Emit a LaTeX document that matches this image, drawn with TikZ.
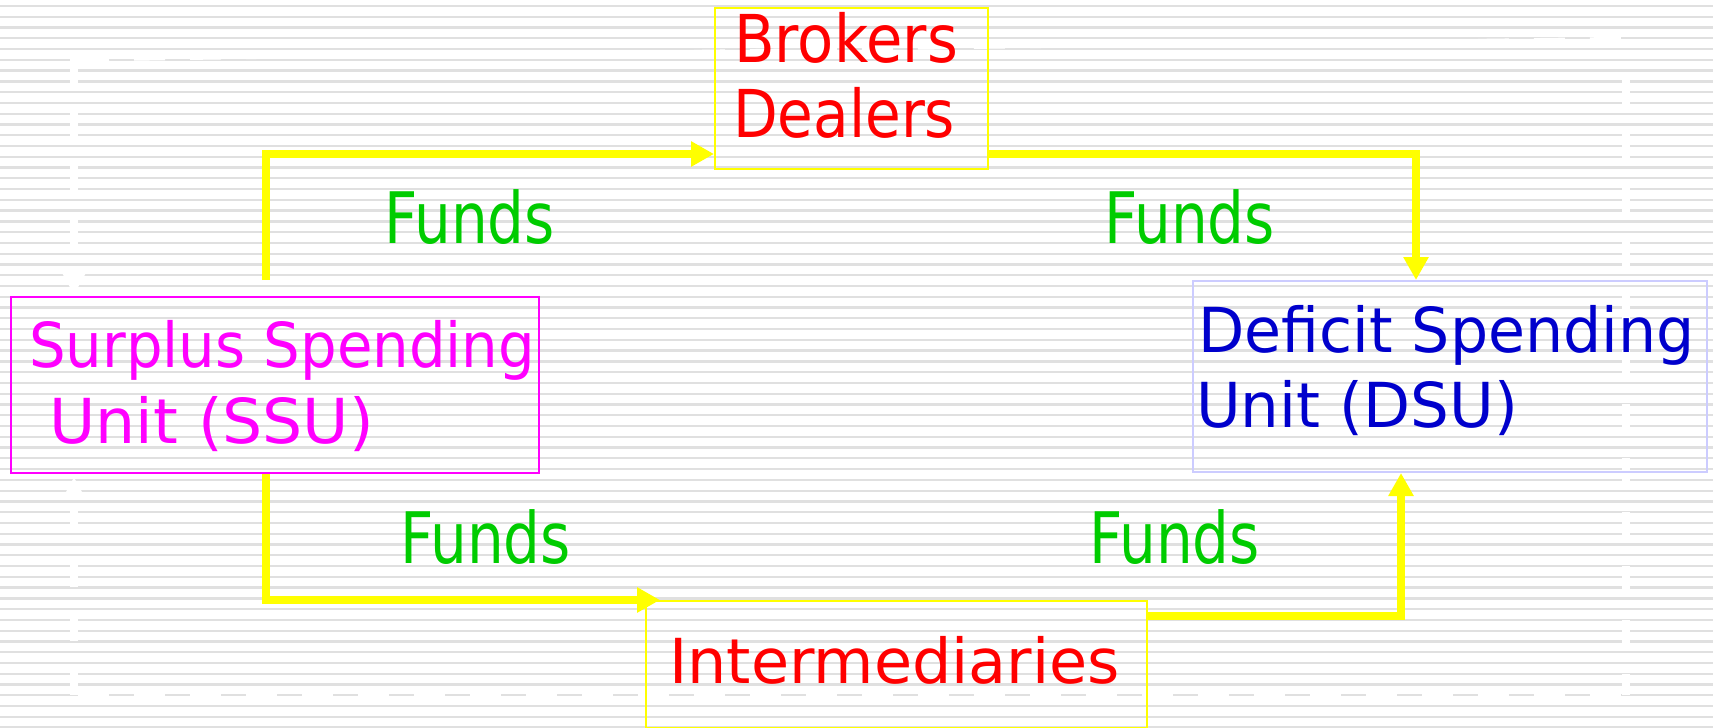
\documentclass[tikz,border=0pt]{standalone}
\usepackage{fontspec}
\setmainfont{DejaVu Sans}
\usetikzlibrary{arrows.meta}
\definecolor{ylw}{RGB}{255,255,0}
\definecolor{mag}{RGB}{255,0,255}
\definecolor{rd}{RGB}{255,0,0}
\definecolor{grn}{RGB}{0,204,0}
\definecolor{blu}{RGB}{0,0,204}
\definecolor{lav}{RGB}{204,204,255}
\definecolor{stripecol}{RGB}{224,224,224}
\newcommand\szA{\fontsize{71}{80}\selectfont}
\newcommand\szB{\fontsize{66}{76}\selectfont}
\newcommand\szC{\fontsize{62}{72}\selectfont}
\newcommand\sxt[2]{\scalebox{#1}[1]{#2}}
\begin{document}
\begin{tikzpicture}[x=1pt,y=-1pt,
  stripe/.style={draw=stripecol,line width=2.3pt},
  ghostv/.style={draw=white,line width=8pt,dash pattern=on 27pt off 27pt},
  ghosth/.style={draw=white,line width=3pt,dash pattern=on 31pt off 25pt},
  ghosttip/.style={-{Triangle[length=22pt,width=22pt]}},
  boxy/.style={draw=#1,line width=2pt,inner sep=0pt,anchor=north west},
  flow/.style={draw=ylw,line width=7.5pt,line join=miter,-{Triangle[length=23pt,width=24pt]}},
  lbl/.style={anchor=base west,inner sep=0pt},
  funds/.style={lbl,text=grn,font=\szA}]
\useasboundingbox (0,0) rectangle (1713,728);
\fill[white] (0,0) rectangle (1713,728);
\foreach \k in {0,...,67} \draw[stripe] (0,6+\k*10.77) -- (1713,6+\k*10.77);
% faint white remnants
\draw[ghostv,ghosttip] (74,58) -- (74,295);
\draw[ghostv,ghosttip] (74,695) -- (74,477);
\draw[ghostv] (1626,80) -- (1626,695);
\draw[ghosth] (78,695) -- (1626,695);
\draw[ghosth] (78,60) -- (1626,38.3);
% boxes
\node[boxy=ylw,minimum width=273pt,minimum height=161pt] (brokers) at (714,7) {};
\node[boxy=mag,minimum width=528pt,minimum height=176pt] (ssu) at (10,296) {};
\node[boxy=lav,minimum width=514pt,minimum height=191pt] (dsu) at (1192,280) {};
\node[boxy=ylw,minimum width=501pt,minimum height=127pt] (inter) at (645,600) {};
% box texts
\node[lbl,text=rd,font=\szB] (bk1) at (734,62) {\sxt{0.897}{Brokers}};
\node[lbl,text=rd,font=\szB] (bk2) at (733,137) {\sxt{0.88}{Dealers}};
\node[lbl,text=mag,font=\szC] (ssu1) at (29,367) {\sxt{0.931}{Surplus Spending}};
\node[lbl,text=mag,font=\szC] (ssu2) at (49,443) {\sxt{1.02}{Unit (SSU)}};
\node[lbl,text=blu,font=\szC] (dsu1) at (1198,352) {\sxt{0.97}{Deficit Spending}};
\node[lbl,text=blu,font=\szC] (dsu2) at (1196,427) {\sxt{0.985}{Unit (DSU)}};
\node[lbl,text=rd,font=\szC] (inter1) at (669,683) {\sxt{1.0}{Intermediaries}};
% funds labels
\node[funds] (f1) at (384,243) {\sxt{0.817}{Funds}};
\node[funds] (f2) at (1104,243) {\sxt{0.817}{Funds}};
\node[funds] (f3) at (400,563) {\sxt{0.817}{Funds}};
\node[funds] (f4) at (1089,563) {\sxt{0.817}{Funds}};
% connectors
\coordinate (s1) at ([xshift=256pt,yshift=16pt]ssu.north west);
\draw[flow] (s1) |- ([yshift=16pt]brokers.south west);
\draw[flow] ([yshift=16pt]brokers.south east) -| ([xshift=224pt]dsu.north west);
\draw[flow] ([xshift=256pt]ssu.south west) |- ([xshift=15pt]inter.north west);
\draw[flow] ([yshift=-16pt]inter.north east) -| ([xshift=209pt]dsu.south west);
\end{tikzpicture}
\end{document}
